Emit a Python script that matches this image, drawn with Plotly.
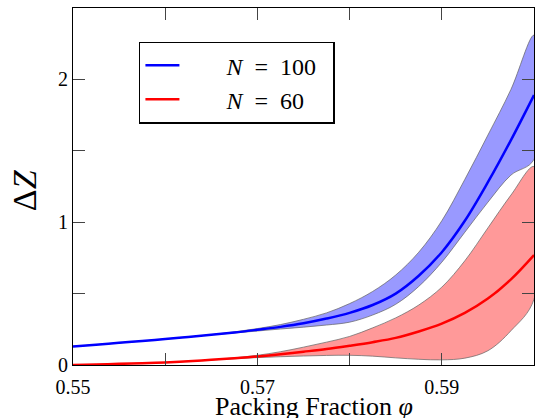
import plotly.graph_objects as go

# ---- data ----
phi = [0.55, 0.5525, 0.555, 0.5575, 0.56, 0.5625, 0.565, 0.5675, 0.57, 0.5725,
       0.575, 0.5775, 0.58, 0.5825, 0.585, 0.5875, 0.59, 0.5925, 0.595, 0.5975, 0.60]

dz_n100 = [0.13, 0.142, 0.155, 0.168, 0.182, 0.196, 0.212, 0.228, 0.247, 0.267,
           0.292, 0.325, 0.365, 0.42, 0.50, 0.625, 0.79, 1.01, 1.28, 1.575, 1.89]
dz_n100_hi = [0.13, 0.142, 0.155, 0.168, 0.182, 0.196, 0.212, 0.232, 0.255, 0.283,
              0.32, 0.365, 0.43, 0.515, 0.63, 0.79, 1.01, 1.30, 1.61, 1.93, 2.31]
dz_n100_lo = [0.13, 0.142, 0.155, 0.168, 0.182, 0.196, 0.212, 0.224, 0.238, 0.252,
              0.265, 0.28, 0.30, 0.35, 0.425, 0.55, 0.72, 0.93, 1.14, 1.33, 1.44]

dz_n60 = [0.0, 0.003, 0.008, 0.012, 0.018, 0.026, 0.036, 0.047, 0.06, 0.075,
          0.093, 0.112, 0.135, 0.16, 0.19, 0.235, 0.29, 0.365, 0.465, 0.60, 0.77]
dz_n60_hi = [0.0, 0.003, 0.008, 0.012, 0.018, 0.026, 0.036, 0.05, 0.068, 0.093,
             0.125, 0.16, 0.20, 0.26, 0.33, 0.42, 0.545, 0.73, 0.96, 1.19, 1.39]
dz_n60_lo = [0.0, 0.003, 0.008, 0.012, 0.018, 0.026, 0.036, 0.044, 0.052, 0.058,
             0.063, 0.067, 0.068, 0.062, 0.05, 0.04, 0.036, 0.048, 0.10, 0.24, 0.46]

x_tickvals = [0.55, 0.56, 0.57, 0.58, 0.59, 0.60]
x_ticktext = ["0.55", "", "0.57", "", "0.59", ""]
y_tickvals = [0, 0.5, 1, 1.5, 2]
y_ticktext = ["0", "", "1", "", "2"]

FONT = "Liberation Serif"
NB = "\u00a0"
EN = "\u2002"

fig = go.Figure()

band_line = dict(color="rgba(100,100,100,0.9)", width=0.8, shape="spline", smoothing=1.0)

# bands
fig.add_trace(go.Scatter(
    x=phi + phi[::-1], y=dz_n100_hi + dz_n100_lo[::-1],
    fill="toself", fillcolor="rgba(0,0,255,0.4)", mode="lines",
    line=band_line, showlegend=False, hoverinfo="skip"))
fig.add_trace(go.Scatter(
    x=phi + phi[::-1], y=dz_n60_hi + dz_n60_lo[::-1],
    fill="toself", fillcolor="rgba(255,0,0,0.4)", mode="lines",
    line=band_line, showlegend=False, hoverinfo="skip"))

# mean lines
fig.add_trace(go.Scatter(
    x=phi, y=dz_n100, mode="lines",
    name=NB * 7 + "<i>N</i>" + EN + "=" + EN + "100" + NB * 2,
    line=dict(color="rgb(0,0,255)", width=2.5, shape="spline", smoothing=1.0)))
fig.add_trace(go.Scatter(
    x=phi, y=dz_n60, mode="lines",
    name=NB * 7 + "<i>N</i>" + EN + "=" + EN + "60",
    line=dict(color="rgb(255,0,0)", width=2.5, shape="spline", smoothing=1.0)))

axis_common = dict(
    showline=True, linecolor="black", linewidth=1.2, mirror="ticks",
    ticks="inside", ticklen=12, tickwidth=1, tickcolor="#444",
    showgrid=False, zeroline=False,
    tickfont=dict(family=FONT, size=20, color="black"),
)

fig.update_layout(
    width=535, height=418,
    margin=dict(l=73, r=1, t=8, b=53),
    paper_bgcolor="white", plot_bgcolor="white",
    xaxis=dict(range=[0.55, 0.60], tickvals=x_tickvals, ticktext=x_ticktext,
               ticklabelstandoff=4, **axis_common),
    yaxis=dict(range=[0, 2.5], tickvals=y_tickvals, ticktext=y_ticktext, **axis_common),
    legend=dict(x=0.143, y=0.906, xanchor="left", yanchor="top",
                bgcolor="white", bordercolor="black", borderwidth=1.5,
                font=dict(family=FONT, size=24, color="black"),
                itemwidth=34, tracegroupgap=0),
    annotations=[
        dict(text="Packing Fraction <i>φ</i>", xref="paper", yref="paper",
             x=0.523, y=-0.07, xanchor="center", yanchor="top", showarrow=False,
             font=dict(family=FONT, size=26, color="black")),
        dict(text="Δ<i>Z</i>", xref="paper", yref="paper",
             x=-0.106, y=0.49, xanchor="center", yanchor="middle", showarrow=False,
             textangle=-90, font=dict(family=FONT, size=34, color="black")),
    ],
)

fig.write_html("out.html",
               config={"displayModeBar": False},
               post_script="document.body.style.margin='0';document.body.style.overflow='hidden';")
